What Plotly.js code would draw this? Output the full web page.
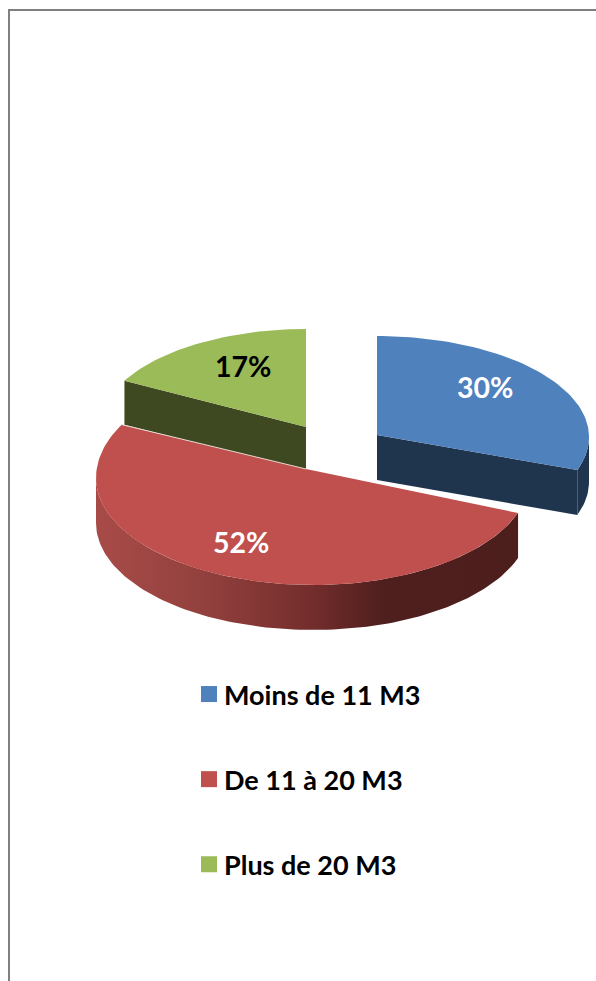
<!DOCTYPE html>
<html><head><meta charset="utf-8">
<script src="https://cdn.plot.ly/plotly-3.0.1.min.js"></script>
<style>html,body{margin:0;padding:0;background:#fff}#c{width:596px;height:981px}</style>
</head><body><div id="c"></div>
<script>
// Data
const categories = ['Moins de 11 M3', 'De 11 à 20 M3', 'Plus de 20 M3'];
const values = [30, 52, 17];

// Styles
const topColors = ['#4f81bd', '#c0504d', '#9bbb59'];
const wallColors = ['#1f344d', '#4c1e1c', '#3f4921'];
const labelColors = ['#ffffff', '#ffffff', '#000000'];

// Layout of the exploded, tilted pie (pixels on the page-sized axes)
const apexX = [377, 306, 306];
const apexY = [435, 469, 427];
const centerX = [377, 313, 306];
const centerY = [437, 478, 427];
const radiusX = [212, 217, 206];
const radiusYFront = [101, 107, 98];
const radiusYBack = [101, 113, 98];
const depth = [45, 45, 44];
const labelX = [485, 241, 243];
const labelY = [389, 544, 368];

const FONT = 'Lato, Carlito, "Open Sans", sans-serif';
const total = values.reduce((a, b) => a + b, 0);
let run = 0;
const angles = values.map(v => { const a = [run / total * 360, (run + v) / total * 360]; run += v; return a; });

function rimPoint(i, deg, dy) {
  const t = deg * Math.PI / 180;
  const c = Math.cos(t);
  const ry = c > 0 ? radiusYBack[i] : radiusYFront[i];
  return [centerX[i] + radiusX[i] * Math.sin(t), centerY[i] - ry * c + (dy || 0)];
}
function arc(i, from, to, dy) {
  const n = Math.max(2, Math.ceil(Math.abs(to - from) / 1.5));
  const p = [];
  for (let k = 0; k <= n; k++) p.push(rimPoint(i, from + (to - from) * k / n, dy));
  return p;
}
function poly(points, extra) {
  return Object.assign({
    type: 'scatter', mode: 'lines', fill: 'toself',
    x: points.map(p => p[0]), y: points.map(p => p[1]),
    line: { width: 0 }, showlegend: false, hoverinfo: 'skip'
  }, extra);
}
function topFace(i) {
  return poly([[apexX[i], apexY[i]], ...arc(i, angles[i][0], angles[i][1]), [apexX[i], apexY[i]]],
    { fillcolor: topColors[i], name: categories[i] });
}
function cutFace(i, deg) {
  const e = rimPoint(i, deg);
  return poly([[apexX[i], apexY[i]], e, [e[0], e[1] + depth[i]], [apexX[i], apexY[i] + depth[i]]],
    { fillcolor: wallColors[i] });
}
function rimWall(i, from, to, extra) {
  return poly([...arc(i, from, to), ...arc(i, to, from, depth[i])], extra || { fillcolor: wallColors[i] });
}

const traces = [
  // green slice
  cutFace(2, angles[2][0]),
  topFace(2),
  // blue slice
  cutFace(0, angles[0][1]),
  rimWall(0, 90, angles[0][1]),
  topFace(0),
  // red slice: shaded outer wall
  rimWall(1, angles[1][0], 270, {
    fillgradient: {
      type: 'horizontal',
      colorscale: [[0, '#a84b48'], [0.25, '#93413e'], [0.5, '#752e2d'], [0.68, '#4f1f1e'], [1, '#4c1e1c']]
    }
  }),
  topFace(1)
];
// pale seam between the red face and the green cut face
const seamEnd = rimPoint(1, angles[1][1]);
traces.push({ type: 'scatter', mode: 'lines', x: [apexX[1], seamEnd[0]], y: [apexY[1], seamEnd[1]],
  line: { color: '#e6d8d0', width: 1 }, showlegend: false, hoverinfo: 'skip' });

// legend entries
categories.forEach((c, i) => traces.push({
  type: 'scatter', mode: 'markers', x: [null], y: [null], name: c, legendgroup: c,
  marker: { symbol: 'square', size: 16, color: topColors[i] }, hoverinfo: 'skip'
}));

const layout = {
  width: 596, height: 981,
  margin: { l: 0, r: 0, t: 0, b: 0 },
  paper_bgcolor: '#fff', plot_bgcolor: '#fff',
  xaxis: { range: [0, 596], visible: false, fixedrange: true },
  yaxis: { range: [981, 0], visible: false, fixedrange: true },
  showlegend: true,
  legend: {
    x: 184 / 596, y: 1 - 670 / 981, xanchor: 'left', yanchor: 'top',
    traceorder: 'grouped', tracegroupgap: 47, bgcolor: 'rgba(0,0,0,0)',
    font: { family: FONT, size: 27, color: '#000', weight: 700 }
  },
  shapes: [
    { type: 'line', xref: 'x', yref: 'y', x0: 9, x1: 9, y0: 10, y1: 981, line: { color: '#808080', width: 2 } },
    { type: 'line', xref: 'x', yref: 'y', x0: 8, x1: 596, y0: 10, y1: 10, line: { color: '#808080', width: 2 } }
  ],
  annotations: values.map((v, i) => ({
    x: labelX[i], y: labelY[i] - 2, xref: 'x', yref: 'y', showarrow: false,
    text: '<b>' + v + '%</b>', font: { family: FONT, size: 28.5, color: labelColors[i] }
  }))
};
Plotly.newPlot('c', traces, layout, { displayModeBar: false, responsive: false }).then(() => {
  // tighten the gap between legend swatch and label
  document.querySelectorAll('#c .legendsymbols').forEach(g => g.setAttribute('transform', 'translate(5,0)'));
});
</script></body></html>
